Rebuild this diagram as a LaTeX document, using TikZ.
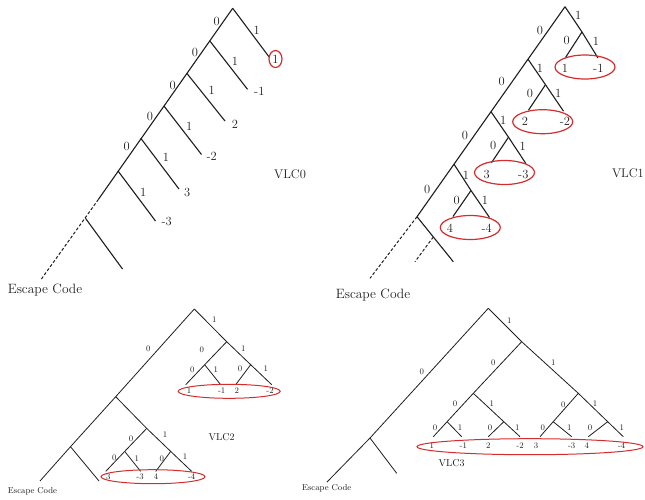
\documentclass[tikz,border=0pt]{standalone}
\usetikzlibrary{calc}
\definecolor{inkc}{RGB}{30,30,30}
\definecolor{ovalc}{RGB}{212,45,45}
\begin{document}
\begin{tikzpicture}[x=1pt,y=-1pt,
  br/.style={draw=inkc,line width=1.1pt},
  brs/.style={draw=inkc,line width=0.8pt},
  dsh/.style={draw=inkc,line width=1pt,dash pattern=on 3pt off 2pt},
  big/.style={font=\fontsize{12.5}{14}\selectfont,inner sep=0pt,text=inkc},
  bigt/.style={font=\fontsize{13.5}{15}\selectfont,inner sep=0pt,text=inkc},
  small/.style={font=\fontsize{8.5}{10}\selectfont,inner sep=0pt,text=inkc},
  smallt/.style={font=\fontsize{10}{12}\selectfont,inner sep=0pt,text=inkc},
  oval/.style={draw=ovalc,line width=1.2pt},
  ovals/.style={draw=ovalc,line width=1pt}]
\useasboundingbox (0,0) rectangle (645,499);

% ================= VLC0 =================
\coordinate (a0) at (232.7,8.3);
\coordinate (a1) at (209.7,40.8);
\coordinate (a2) at (186.8,73.3);
\coordinate (a3) at (163.8,105.8);
\coordinate (a4) at (140.8,138.3);
\coordinate (a5) at (117.9,170.8);
\coordinate (a6) at (85.5,218.3);
\coordinate (ae) at (40.7,280);
\coordinate (ad) at ($(a5)!0.6!(a6)$);
\coordinate (b0) at (269.5,57.5);
\coordinate (b1) at (247.5,89.3);
\coordinate (b2) at (225,121);
\coordinate (b3) at (201.5,154.5);
\coordinate (b4) at (179,189);
\coordinate (b5) at (155.5,221);
\coordinate (b6) at (122.5,269);
\draw[br] (a0) -- (ad);
\draw[dsh] (ad) -- (ae);
\foreach \i in {0,...,6} \draw[br] (a\i) -- (b\i);
\foreach \x/\y/\t [count=\i] in {216.7/21.7/0,195/52.7/0,172.7/85/0,150/116/0,126.7/146.7/0,
  256.7/30.7/1,235/61.7/1,211.7/90.7/1,189.3/126/1,166/157.3/1,143.3/192.7/1,
  275.5/59/1,259.3/91.7/-1,235/124/2,211.7/156/-2,187.3/192.7/3,166.7/221.7/-3}
  \node[big] (pa\i) at (\x,\y) {\t};
\draw[oval] (pa12.center) ellipse [x radius=6.5pt,y radius=8.5pt];
\node[big] (vlc0) at (290,174) {VLC0};
\node[bigt] (esc0) at (45,290) {Escape Code};

% ================= VLC1 =================
\coordinate (n0) at (565,6.7);
\coordinate (n1) at (528,59.2);
\coordinate (n2) at (491,111.7);
\coordinate (n3) at (454,164.2);
\coordinate (n4) at (417,216.7);
\coordinate (ne) at (370,278.3);
\coordinate (c0) at (582,32);
\coordinate (c1) at (545.5,84.7);
\coordinate (c2) at (508.5,137.2);
\coordinate (c3) at (471,190.5);
\coordinate (c0l) at (565.5,57.5);  \coordinate (c0r) at (598,58);
\coordinate (c1l) at (528.5,110.2); \coordinate (c1r) at (563.5,111.2);
\coordinate (c2l) at (491.5,162.7); \coordinate (c2r) at (526,163.7);
\coordinate (c3l) at (453,216.5);   \coordinate (c3r) at (489.5,217.5);
\coordinate (x4) at (453.3,261.7);
\coordinate (x4m) at ($(n4)!0.45!(x4)$);
\coordinate (x4e) at (415,261.7);
\draw[br] (n0) -- (n4);
\draw[dsh] (n4) -- (ne);
\foreach \i in {0,...,3} {
  \draw[br] (n\i) -- (c\i);
  \draw[br] (c\i) -- (c\i l);
  \draw[br] (c\i) -- (c\i r);
}
\draw[br] (n4) -- (x4);
\draw[dsh] (x4m) -- (x4e);
\foreach \x/\y/\t [count=\i] in {540/30/0,501.7/81.7/0,465/135/0,427.3/189.3/0,
  566.7/40/0,530/93.3/0,493.3/145/0,456.7/200/0,
  578.3/15/1,540/68.3/1,503.3/120/1,466/175/1,
  596/41.7/1,558.3/93.3/1,522.7/146.7/1,485/200/1,
  565/68.3/1,598.3/68.3/-1,525/121.7/2,565/121.7/-2,
  486.7/174/3,523.3/174/-3,450/228.3/4,486.7/228.3/-4}
  \node[big] (pb\i) at (\x,\y) {\t};
\coordinate (o1) at (585,67);
\coordinate (o2) at (542.7,121.7);
\coordinate (o3) at (504.5,172.5);
\coordinate (o4) at (470.3,227.5);
\foreach \i in {1,...,4} \draw[oval] (o\i) ellipse [x radius=30pt,y radius=12pt];
\node[big,anchor=east] (vlc1) at (644,173.3) {VLC1};
\node[bigt] (esc1) at (373,295) {Escape Code};

% ================= VLC2 =================
\coordinate (r2) at (194.3,309);
\coordinate (s2b) at (115.7,396.7);
\coordinate (s2d) at (70.5,446.7);
\coordinate (s2dl) at (40,481);
\coordinate (s2dr) at (99,481);
\coordinate (u) at (226.7,341.7);
\coordinate (v) at (146.7,428.4);
\foreach \c in {u,v} {
  \coordinate (\c L) at ($(\c)+(-22,23)$);
  \coordinate (\c R) at ($(\c)+(24,23)$);
  \coordinate (\c LL) at ($(\c)+(-41,43)$);
  \coordinate (\c LR) at ($(\c)+(-6,43)$);
  \coordinate (\c RL) at ($(\c)+(9,43)$);
  \coordinate (\c RR) at ($(\c)+(45,43)$);
}
\draw[brs] (r2) -- (s2b) -- (s2d) -- (s2dl);
\draw[brs] (s2d) -- (s2dr);
\draw[brs] (r2) -- (u);
\draw[brs] (s2b) -- (v);
\foreach \c in {u,v} {
  \draw[brs] (\c) -- (\c L) -- (\c LL);
  \draw[brs] (\c L) -- (\c LR);
  \draw[brs] (\c) -- (\c R) -- (\c RR);
  \draw[brs] (\c R) -- (\c RL);
}
\foreach \x/\y/\t [count=\i] in {214.3/320/1,148.3/348.3/0,201.7/350/0,243.3/348.3/1,
  192.3/370/0,215.7/370/1,240/369/0,265.7/368.3/1,
  189/391/1,221.7/391/-1,236.7/391/2,270/391/-2,
  131/438.3/0,165/434.3/1,114.3/457.7/0,136.7/458.3/1,161.7/458.3/0,185/456.7/1,
  108.3/476.7/3,140/476.7/-3,156/476.7/4,191.7/476.7/-4}
  \node[small] (pc\i) at (\x,\y) {\t};
\coordinate (o5) at (229.2,391.3);
\coordinate (o6) at (153,476.7);
\draw[ovals] (o5) ellipse [x radius=51pt,y radius=7pt];
\draw[ovals] (o6) ellipse [x radius=52pt,y radius=7pt];
\node[smallt] (vlc2) at (221.7,436.7) {VLC2};
\node[small] (esc2) at (32.5,491.7) {Escape Code};

% ================= VLC3 =================
\coordinate (r3) at (488.3,308.3);
\coordinate (s3d) at (370,438);
\coordinate (s3dl) at (327,482);
\coordinate (s3dr) at (396.7,473.3);
\coordinate (w) at (521.7,341.7);
\coordinate (wL) at (473.3,393.3);
\coordinate (wR) at (578.3,393.3);
\coordinate (wLL) at (447.1,421.7);
\coordinate (wLR) at (503.8,421.7);
\coordinate (wRL) at (553.2,421.7);
\coordinate (wRR) at (607.7,421.7);
\coordinate (e1) at (433.3,436.7);
\coordinate (e2) at (461.7,436.7);
\coordinate (e3) at (488.3,436.7);
\coordinate (e4) at (520,436.7);
\coordinate (e5) at (540,436.7);
\coordinate (e6) at (571.7,436.7);
\coordinate (e7) at (588.3,436.7);
\coordinate (e8) at (623.3,436.7);
\draw[brs] (r3) -- (s3d) -- (s3dl);
\draw[brs] (s3d) -- (s3dr);
\draw[brs] (r3) -- (w);
\draw[brs] (w) -- (wL) -- (wLL) -- (e1);
\draw[brs] (wLL) -- (e2);
\draw[brs] (wL) -- (wLR) -- (e4);
\draw[brs] (wLR) -- (e3);
\draw[brs] (w) -- (wR) -- (wRR) -- (e8);
\draw[brs] (wRR) -- (e7);
\draw[brs] (wR) -- (wRL) -- (e5);
\draw[brs] (wRL) -- (e6);
\foreach \x/\y/\t [count=\i] in {509.3/320.7/1,421.7/371.7/0,493.3/362.7/0,553.3/362.7/1,
  455/404/0,491.7/404/1,563.3/405/0,595/403.3/1,
  435/427.3/0,460/427.3/1,490/427.3/0,517.3/427.3/1,542.7/427.3/0,569.3/427.3/1,590/427.3/0,621.7/427.3/1,
  431.7/446/1,463.3/446/-1,488.3/446/2,520/446/-2,536/446/3,571.7/446/-3,586.7/446/4,621.7/446/-4}
  \node[small] (pd\i) at (\x,\y) {\t};
\coordinate (o7) at (530,446.7);
\draw[ovals] (o7) ellipse [x radius=113pt,y radius=8pt];
\node[smallt] (vlc3) at (451.7,463.3) {VLC3};
\node[small] (esc3) at (326.7,488.3) {Escape Code};
\end{tikzpicture}
\end{document}
